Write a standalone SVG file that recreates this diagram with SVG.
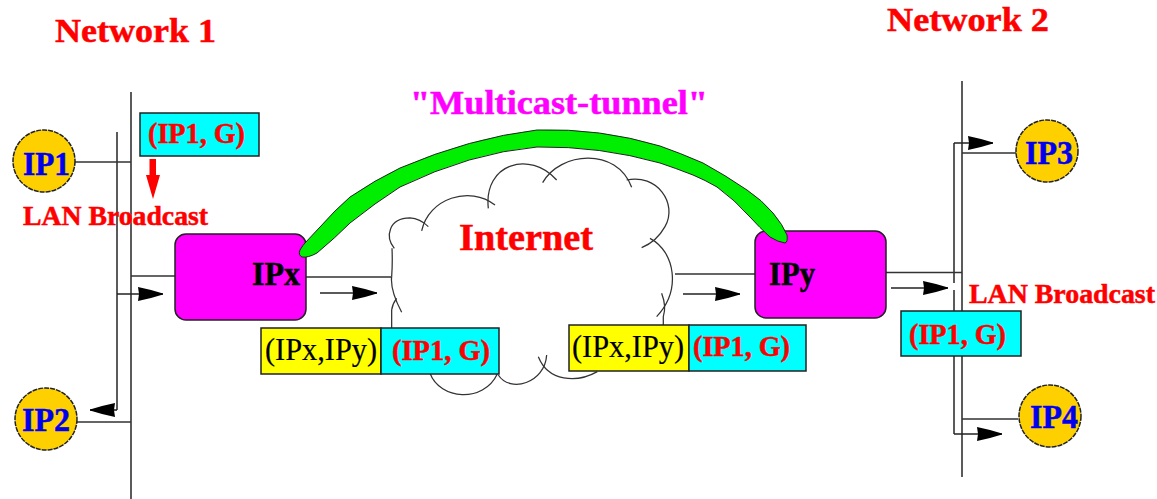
<svg xmlns="http://www.w3.org/2000/svg" width="1157" height="499" viewBox="0 0 1157 499">
<style>
text{font-family:"Liberation Serif","Times New Roman",serif;font-weight:bold;stroke-width:.5}
.ln{fill:none;stroke:#333;stroke-width:1.6}
.cl{fill:none;stroke:#333;stroke-width:3.8}
.ar{fill:none;stroke:#222;stroke-width:1.6;marker-end:url(#h)}
.host{fill:#ffd000;stroke:#222;stroke-width:1.5;stroke-dasharray:5 1}
.router{fill:#ff00ff;stroke:#222;stroke-width:1.5}
.cy{fill:#00ffff;stroke:#222;stroke-width:1.5}
.ye{fill:#ffff00;stroke:#222;stroke-width:1.5}
.r{fill:#ff0000;stroke:#ff0000}.b{fill:#0000ee;stroke:#0000ee}.k{fill:#000;stroke:#000}
.reg{font-weight:normal;stroke-width:.2}
.m{fill:#ff00ff;stroke:#ff00ff}
</style>
<defs>
<marker id="h" markerUnits="userSpaceOnUse" markerWidth="26" markerHeight="14" refX="25" refY="7" orient="auto">
<path d="M0 0L13 3L25 6.500V7.500L13 11L0 14L1 7Z" fill="#000"/>
</marker>
</defs>
<rect width="1157" height="499" fill="#fff"/>
<g id="connectors">
<path class="ln" d="M131 92V499M117 132V410M75 162H131M77 422H131M131 276H175M306 277H391"/>
<path class="ln" d="M962 81V477M954 143V283M954 290V434M962 153H1016M962 419H1018M886 272.500H962M675 274H755"/>
<path class="ar" d="M117 294H163"/>
<path class="ar" d="M117 410H90"/>
<path class="ar" d="M320 293H377"/>
<path class="ar" d="M683 294H740"/>
<path class="ar" d="M891 288H948"/>
<path class="ar" d="M954 143H993"/>
<path class="ar" d="M954 434H1002"/>
<path d="M149.500 159H156V175H160L153 199L146 175H149.500Z" fill="#ff0000"/>
</g>
<g id="cloud" transform="translate(370 130) scale(.3333)">
<path class="cl" d="M65 595V540Q68 520 80 505"/>
<path class="cl" d="M95 547Q60 480 65 440Q68 400 66 355"/>
<path class="cl" d="M73 355C45 320 55 265 120 264Q150 266 175 290"/>
<path class="cl" d="M155 303C175 205 300 165 375 225"/>
<path class="cl" d="M355 235C340 100 480 60 560 150"/>
<path class="cl" d="M518 158C570 65 740 50 785 172"/>
<path class="cl" d="M770 150C860 130 925 220 885 290Q860 335 815 353"/>
<path class="cl" d="M840 325C915 365 935 480 860 560"/>
<path class="cl" d="M875 490Q890 530 880 560V587"/>
<path class="cl" d="M682 725C620 760 535 755 505 680"/>
<path class="cl" d="M530 675C525 760 420 790 385 735"/>
<path class="cl" d="M382 732C340 820 210 810 180 730"/>
</g>
<g id="ip1"><circle class="host" cx="44" cy="161" r="31"/><text class="b" x="23" y="175" font-size="33" textLength="47" lengthAdjust="spacingAndGlyphs">IP1</text></g>
<g id="ip2"><circle class="host" cx="46" cy="419" r="31"/><text class="b" x="22" y="431" font-size="33" textLength="48" lengthAdjust="spacingAndGlyphs">IP2</text></g>
<g id="ip3"><circle class="host" cx="1047" cy="151" r="31"/><text class="b" x="1025" y="164" font-size="33" textLength="48" lengthAdjust="spacingAndGlyphs">IP3</text></g>
<g id="ip4"><circle class="host" cx="1050" cy="416" r="31"/><text class="b" x="1030" y="428" font-size="33" textLength="48" lengthAdjust="spacingAndGlyphs">IP4</text></g>
<g id="ipx"><rect class="router" x="175" y="234" width="131" height="86" rx="11"/><text class="k" x="252" y="285" font-size="33" textLength="48" lengthAdjust="spacingAndGlyphs">IPx</text></g>
<g id="ipy"><rect class="router" x="755" y="231" width="131" height="87" rx="11"/><text class="k" x="769" y="285" font-size="33" textLength="46" lengthAdjust="spacingAndGlyphs">IPy</text></g>
<g id="tunnel">
<path d="M300 250Q303 245 305 243L320 227Q335 210 350 197Q375 180 400 168Q470 138 537 130Q600 128 660 146Q680 153 703 163Q725 175 747 190Q762 200 773 213Q783 225 787 235Q788 242 785 243Q778 242 770 237Q760 228 750 217Q735 200 717 187Q705 180 693 175Q675 168 660 163Q600 146 537 147Q470 153 400 187Q375 203 350 223Q335 238 317 253Q308 258 302 257Q298 255 300 250Z" fill="#00ee00" stroke="#222" stroke-width="1"/>
</g>
<g id="packet-top"><rect class="cy" x="140" y="113" width="119" height="43"/><text class="r" x="148" y="143" font-size="29" textLength="97" lengthAdjust="spacingAndGlyphs">(IP1, G)</text></g>
<g id="packet-left"><rect class="ye" x="261" y="328" width="120" height="46"/><text class="k reg" x="265" y="360" font-size="31" textLength="112" lengthAdjust="spacingAndGlyphs">(IPx,IPy)</text><rect class="cy" x="381" y="328" width="118" height="46"/><text class="r" x="392" y="360" font-size="29" textLength="98" lengthAdjust="spacingAndGlyphs">(IP1, G)</text></g>
<g id="packet-right"><rect class="ye" x="569" y="325" width="120" height="46"/><text class="k reg" x="572" y="357" font-size="31" textLength="112" lengthAdjust="spacingAndGlyphs">(IPx,IPy)</text><rect class="cy" x="689" y="325" width="117" height="46"/><text class="r" x="693" y="356" font-size="29" textLength="97" lengthAdjust="spacingAndGlyphs">(IP1, G)</text></g>
<g id="packet-net2"><rect class="cy" x="901" y="311" width="120" height="45"/><text class="r" x="909" y="344" font-size="29" textLength="97" lengthAdjust="spacingAndGlyphs">(IP1, G)</text></g>
<g id="labels">
<text class="r" x="55" y="42" font-size="34" textLength="161" lengthAdjust="spacingAndGlyphs">Network 1</text>
<text class="r" x="887" y="31" font-size="34" textLength="162" lengthAdjust="spacingAndGlyphs">Network 2</text>
<text class="m" x="410" y="114" font-size="34" textLength="298" lengthAdjust="spacingAndGlyphs">"Multicast-tunnel"</text>
<text class="r" x="459" y="250" font-size="38" textLength="134" lengthAdjust="spacingAndGlyphs">Internet</text>
<text class="r" x="23" y="225" font-size="27" textLength="185" lengthAdjust="spacingAndGlyphs">LAN Broadcast</text>
<text class="r" x="969" y="303" font-size="27" textLength="186" lengthAdjust="spacingAndGlyphs">LAN Broadcast</text>
</g>
</svg>
